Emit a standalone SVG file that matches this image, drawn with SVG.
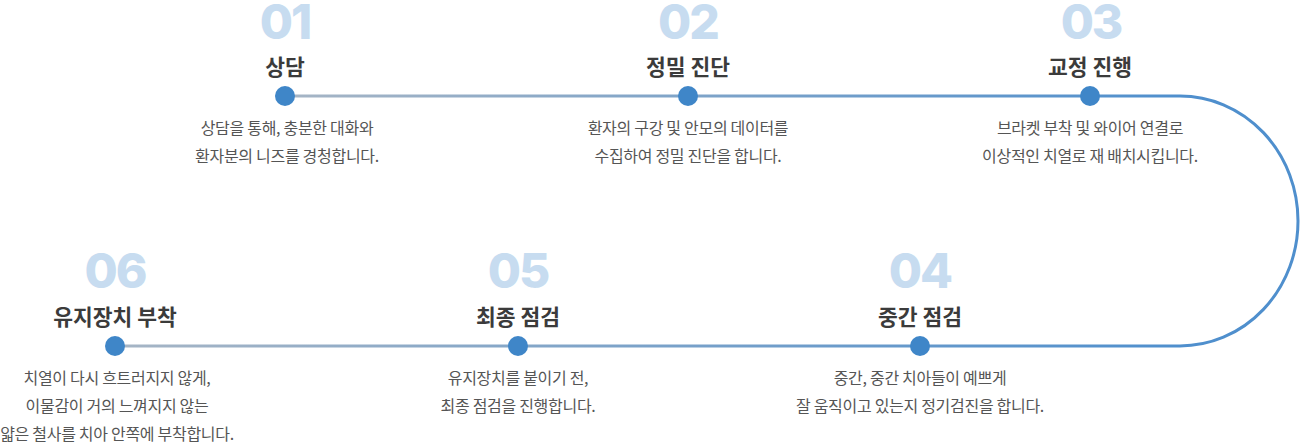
<svg xmlns="http://www.w3.org/2000/svg" width="1300" height="443" viewBox="0 0 1300 443">
<style>
.num{font-family:Inter,"Noto Sans",sans-serif;font-weight:800;font-size:48px;fill:#c7dcf0;text-anchor:middle;letter-spacing:-2px}
.ttl{font-family:"Noto Sans CJK KR","Noto Sans",sans-serif;font-weight:700;font-size:21.5px;fill:#3b3b3b;text-anchor:middle}
.dsc{font-family:"Noto Sans CJK KR","Noto Sans",sans-serif;font-weight:400;font-size:16px;fill:#555;text-anchor:middle;letter-spacing:-0.3px}
.dot{fill:#3f86c8}
.ln{fill:none;stroke-width:3}
</style>
<defs>
<linearGradient id="gTop" gradientUnits="userSpaceOnUse" x1="285" y1="0" x2="1180" y2="0">
<stop offset="0" stop-color="#a6b5c5"/>
<stop offset="1" stop-color="#4f8fcd"/>
</linearGradient>
<linearGradient id="gBot" gradientUnits="userSpaceOnUse" x1="1180" y1="0" x2="115" y2="0">
<stop offset="0" stop-color="#4f8fcd"/>
<stop offset="1" stop-color="#a6b5c5"/>
</linearGradient>
</defs>
<g id="connectors">
<path class="ln" stroke="url(#gTop)" d="M285 96 H1180"/>
<path class="ln" stroke="#4f8fcd" d="M1180 96 A118 125 0 0 1 1180 346"/>
<path class="ln" stroke="url(#gBot)" d="M1180 346 H115"/>
</g>
<g id="step01">
<text class="num" x="285" y="39">01</text>
<text class="ttl" x="285" y="75">상담</text>
<circle class="dot" cx="285" cy="96" r="10"/>
<text class="dsc" x="287" y="134">상담을 통해, 충분한 대화와</text>
<text class="dsc" x="287" y="162">환자분의 니즈를 경청합니다.</text>
</g>
<g id="step02">
<text class="num" x="688" y="39">02</text>
<text class="ttl" x="688" y="75">정밀 진단</text>
<circle class="dot" cx="688" cy="96" r="10"/>
<text class="dsc" x="688" y="134">환자의 구강 및 안모의 데이터를</text>
<text class="dsc" x="688" y="162">수집하여 정밀 진단을 합니다.</text>
</g>
<g id="step03">
<text class="num" x="1091" y="39">03</text>
<text class="ttl" x="1090" y="75">교정 진행</text>
<circle class="dot" cx="1090" cy="96" r="10"/>
<text class="dsc" x="1090" y="134">브라켓 부착 및 와이어 연결로</text>
<text class="dsc" x="1090" y="162">이상적인 치열로 재 배치시킵니다.</text>
</g>
<g id="step04">
<text class="num" x="920" y="288">04</text>
<text class="ttl" x="920" y="325">중간 점검</text>
<circle class="dot" cx="920" cy="346" r="10"/>
<text class="dsc" x="920" y="384">중간, 중간 치아들이 예쁘게</text>
<text class="dsc" x="920" y="412">잘 움직이고 있는지 정기검진을 합니다.</text>
</g>
<g id="step05">
<text class="num" x="518" y="288">05</text>
<text class="ttl" x="518" y="325">최종 점검</text>
<circle class="dot" cx="518" cy="346" r="10"/>
<text class="dsc" x="518" y="384">유지장치를 붙이기 전,</text>
<text class="dsc" x="518" y="412">최종 점검을 진행합니다.</text>
</g>
<g id="step06">
<text class="num" x="115" y="288">06</text>
<text class="ttl" x="115" y="325">유지장치 부착</text>
<circle class="dot" cx="115" cy="346" r="10"/>
<text class="dsc" x="117" y="384">치열이 다시 흐트러지지 않게,</text>
<text class="dsc" x="117" y="412">이물감이 거의 느껴지지 않는</text>
<text class="dsc" x="117" y="440">얇은 철사를 치아 안쪽에 부착합니다.</text>
</g>
</svg>
